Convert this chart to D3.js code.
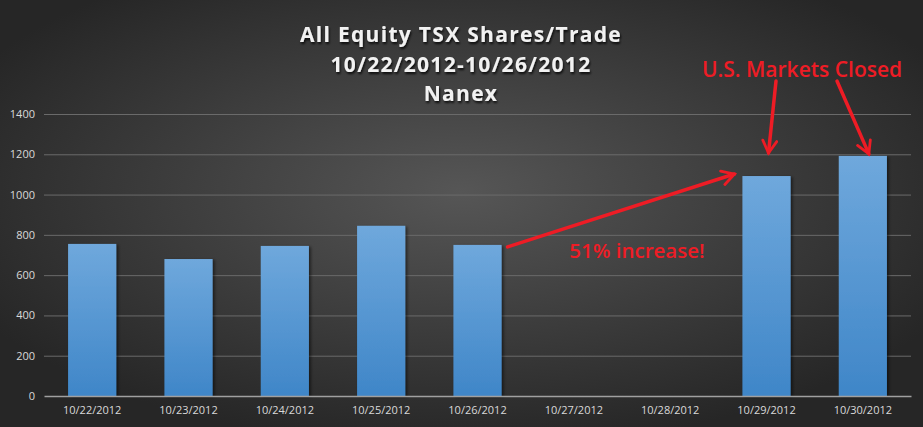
<!DOCTYPE html>
<html><head><meta charset="utf-8">
<script src="https://cdn.jsdelivr.net/npm/d3@7"></script>
<style>html,body{margin:0;padding:0;background:#333;}svg{display:block;}</style>
</head><body>
<svg id="c" width="923" height="427"></svg>
<script>
const categories = ["10/22/2012","10/23/2012","10/24/2012","10/25/2012","10/26/2012","10/27/2012","10/28/2012","10/29/2012","10/30/2012"];
const values = [755, 680, 745, 845, 750, null, null, 1092, 1192];
const yTicks = [0,200,400,600,800,1000,1200,1400];
const titleLines = ["All Equity TSX Shares/Trade","10/22/2012-10/26/2012","Nanex"];

const W=923,H=427;
const m={l:44,r:12,t:114,b:31};
const svg=d3.select("#c");
const defs=svg.append("defs");
const bg=defs.append("radialGradient").attr("id","bg").attr("cx","50%").attr("cy","45%").attr("r","60%");
bg.append("stop").attr("offset","0%").attr("stop-color","#565656");
bg.append("stop").attr("offset","100%").attr("stop-color","#262626");
const bar=defs.append("linearGradient").attr("id","bar").attr("x1",0).attr("y1",0).attr("x2",0).attr("y2",1);
bar.append("stop").attr("offset","0%").attr("stop-color","#6fa8dc");
bar.append("stop").attr("offset","100%").attr("stop-color","#3f86c8");
const sh=defs.append("filter").attr("id","sh").attr("x","-10%").attr("y","-10%").attr("width","120%").attr("height","140%");
sh.append("feDropShadow").attr("dx",1).attr("dy",2).attr("stdDeviation",1.2).attr("flood-color","#000").attr("flood-opacity",0.8);
const bsh=defs.append("filter").attr("id","bsh").attr("x","-20%").attr("y","-5%").attr("width","150%").attr("height","115%");
bsh.append("feDropShadow").attr("dx",2).attr("dy",1).attr("stdDeviation",1.5).attr("flood-color","#000").attr("flood-opacity",0.5);

svg.append("rect").attr("width",W).attr("height",H).attr("fill","url(#bg)");

const x=d3.scaleBand().domain(categories).range([m.l,W-m.r]).paddingInner(0.5).paddingOuter(0.25);
const y=d3.scaleLinear().domain([0,1400]).range([H-m.b,m.t]);

// gridlines
svg.append("g").selectAll("line").data(yTicks.filter(d=>d>0)).join("line")
  .attr("x1",m.l).attr("x2",W-m.r).attr("y1",d=>y(d)+0.5).attr("y2",d=>y(d)+0.5)
  .attr("stroke","#6a6a6a").attr("stroke-width",1);

// y axis
const ya=svg.append("g").attr("transform",`translate(${m.l-9},0)`)
  .call(d3.axisLeft(y).tickValues(yTicks).tickFormat(d3.format("d")).tickSize(0).tickPadding(0));
ya.select(".domain").remove();
ya.selectAll("text").attr("fill","#d9d9d9").style("font-family","'Open Sans',sans-serif").style("font-size","11px");

// bars
const data=categories.map((c,i)=>({c,v:values[i]})).filter(d=>d.v!=null);
svg.append("g").selectAll("rect").data(data).join("rect")
  .attr("x",d=>x(d.c)).attr("width",x.bandwidth())
  .attr("y",d=>y(d.v)).attr("height",d=>y(0)-y(d.v))
  .attr("fill","url(#bar)").attr("filter","url(#bsh)");

// x axis
const xa=svg.append("g").attr("transform",`translate(0,${y(0)})`)
  .call(d3.axisBottom(x).tickSize(0).tickPadding(10));
xa.select(".domain").attr("stroke","#a0a0a0").attr("stroke-width",1.5);
xa.selectAll("text").attr("fill","#d9d9d9").style("font-family","'Open Sans',sans-serif").style("font-size","11px");

// title
svg.append("g").selectAll("text").data(titleLines).join("text")
  .attr("x",461).attr("y",(d,i)=>42+i*29.5).attr("text-anchor","middle")
  .attr("fill","#f2f2f2").attr("filter","url(#sh)")
  .style("font-family","'Open Sans',sans-serif").style("font-weight","bold").style("font-size","21px")
  .style("letter-spacing","1.3px")
  .text(d=>d);

// annotations
const red="#ee1c25";
defs.append("marker").attr("id","ah").attr("viewBox","0 0 10 10").attr("refX",8).attr("refY",5)
  .attr("markerWidth",5).attr("markerHeight",5).attr("orient","auto-start-reverse").attr("markerUnits","strokeWidth")
  .append("path").attr("d","M1,1 L8,5 L1,9").attr("fill","none").attr("stroke",red).attr("stroke-width",1.6).attr("stroke-linecap","round");
function arrow(x1,y1,x2,y2){
  svg.append("line").attr("x1",x1).attr("y1",y1).attr("x2",x2).attr("y2",y2)
    .attr("stroke",red).attr("stroke-width",3.5).attr("stroke-linecap","round").attr("marker-end","url(#ah)");
}
const b26=x("10/26/2012")+x.bandwidth(), b29=x("10/29/2012"), b30=x("10/30/2012");
arrow(b26+6, y(values[4])+2, b29-8, y(values[7])-2);
arrow(776, 81, b29+x.bandwidth()/2+2, y(values[7])-23);
arrow(837, 81, b30+x.bandwidth()/2+6, y(values[8])-2);

svg.append("text").attr("x",637).attr("y",258).attr("text-anchor","middle").attr("fill",red)
  .style("font-family","'Open Sans',sans-serif").style("font-size","20.5px").style("font-weight","600").text("51% increase!");
svg.append("text").attr("x",802).attr("y",77).attr("text-anchor","middle").attr("fill",red)
  .style("font-family","'Open Sans',sans-serif").style("font-size","21px").style("font-weight","600").text("U.S. Markets Closed");
</script>
</body></html>
